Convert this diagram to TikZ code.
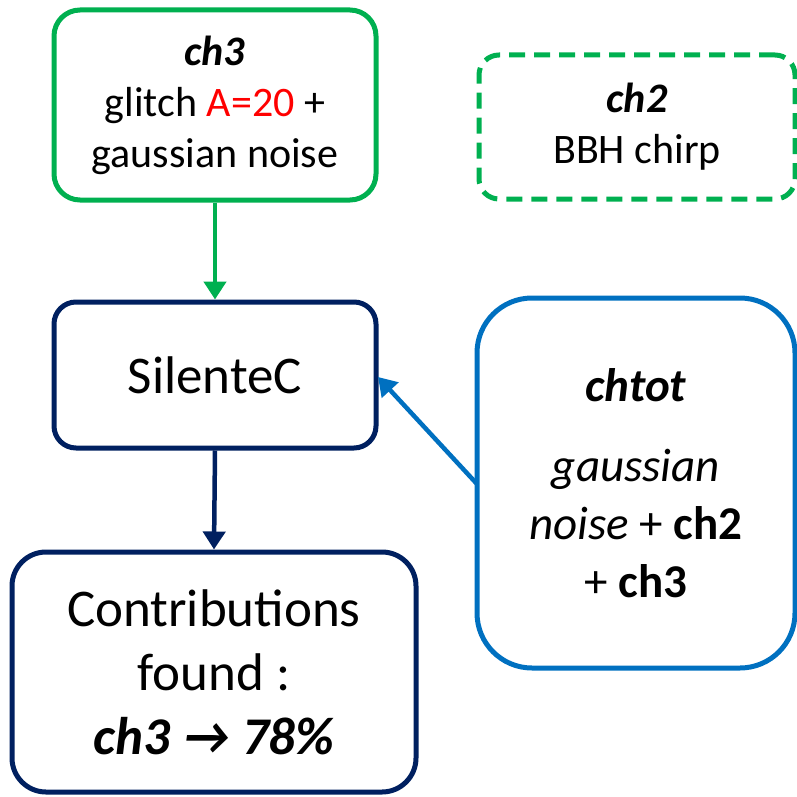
\documentclass[tikz,border=0pt]{standalone}
\usepackage{fontspec}
\setmainfont{Carlito}
\usepackage{tikz}
\usetikzlibrary{arrows.meta,positioning}
\definecolor{ChGreen}{HTML}{00B050}
\definecolor{ChNavy}{HTML}{002060}
\definecolor{ChBlue}{HTML}{0070C0}
\definecolor{ChRed}{HTML}{FF0000}

\begin{document}
\begin{tikzpicture}[x=1pt, y=-1pt,
  box/.style={draw, line width=5pt, align=center, inner sep=0pt},
  small/.style={font=\fontsize{42}{51}\selectfont},
  mid/.style={font=\fontsize{47}{58}\selectfont},
  big/.style={font=\fontsize{53}{64}\selectfont},
  link/.style={line width=4.5pt, -{Triangle[width=22pt,length=18pt]}}]
  \useasboundingbox (0,0) rectangle (796,797);
  % input channels
  \node[box, small, ChGreen, text=black, rounded corners=26pt,
        minimum width=322pt, minimum height=190pt] (ch3) at (215,105)
    {\textbf{\textit{ch3}}\\ glitch \textcolor{ChRed}{A=20} +\\ gaussian noise};
  \node[box, small, ChGreen, text=black, dashed, dash pattern=on 16pt off 9pt,
        rounded corners=20pt, minimum width=316pt, minimum height=144pt] (ch2) at (637,127)
    {\textbf{\textit{ch2}}\\ BBH chirp};
  % SilenteC and output
  \node[box, big, ChNavy, text=black, rounded corners=22pt,
        minimum width=322pt, minimum height=146pt] (silente) at (215,375) {SilenteC};
  \node[box, big, ChNavy, text=black, rounded corners=34pt,
        minimum width=404pt, minimum height=240pt] (contrib) at (214,672)
    {Contributions\\ found :\\ \textbf{\textit{ch3 → 78\%}}};
  % total channel
  \node[box, mid, ChBlue, text=black, rounded corners=55pt,
        minimum width=318pt, minimum height=370pt] (chtot) at (636,483)
    {\textbf{\textit{chtot}}\\[22pt] \textit{gaussian}\\ \textit{noise} + \textbf{ch2}\\ + \textbf{ch3}};
  % connectors
  \coordinate (totout) at (477,484);
  \draw[link, ChGreen] (ch3.south) -- (silente.north);
  \draw[link, ChNavy] (silente.south) -- (contrib.north);
  \draw[link, ChBlue] (totout) -- (378,377);
\end{tikzpicture}
\end{document}
